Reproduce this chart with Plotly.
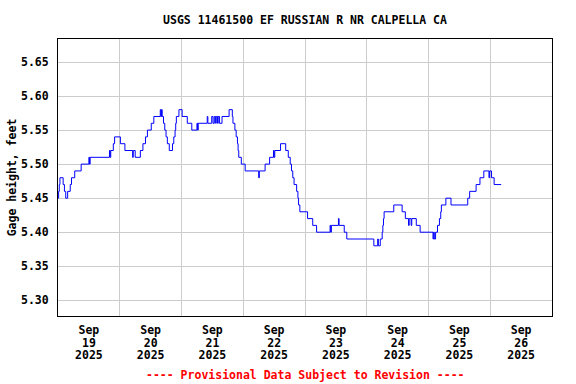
import pandas as pd
import plotly.graph_objects as go

# Hours since 2025-09-19 00:00 where the gage height changes (step data)
hours = [0, 0.25, 0.5, 0.75, 2.0, 2.5, 3.0, 3.75, 4.75, 5.25, 6.5, 9.0, 12.0, 12.25, 12.5,
         20.0, 20.25, 20.5, 21.5, 22.0, 24.25, 26.0, 29.0, 29.25, 30.0, 32.0, 33.0, 34.0,
         34.75, 36.25, 37.25, 39.75, 40.0, 40.25, 40.5, 41.0, 41.5, 42.0, 42.5, 43.25, 44.5,
         45.0, 45.5, 45.75, 46.0, 47.0, 48.25, 50.25, 52.0, 54.0, 54.25, 54.5, 58.0, 58.25,
         59.75, 60.25, 60.75, 61.25, 61.5, 62.0, 62.25, 62.75, 63.75, 66.5, 67.75, 68.0,
         68.75, 69.25, 69.75, 70.0, 70.25, 71.25, 72.75, 78.0, 78.25, 80.5, 82.25, 83.75,
         84.0, 84.25, 86.5, 88.5, 89.5, 90.25, 90.75, 91.25, 91.75, 92.75, 93.25, 93.5, 94.0,
         97.0, 99.0, 100.5, 105.75, 106.0, 106.25, 109.0, 109.25, 111.25, 112.25, 122.75,
         124.25, 124.5, 125.25, 126.0, 126.25, 126.5, 126.75, 130.5, 133.75, 135.0, 136.25,
         136.5, 137.25, 137.5, 139.25, 140.75, 145.75, 146.0, 146.25, 146.75, 147.5, 148.25,
         148.75, 149.0, 150.75, 152.75, 159.25, 160.0, 162.5, 164.0, 165.5, 167.5, 167.75,
         168.5, 169.5, 172.25]

gage_ft = [5.45, 5.46, 5.47, 5.48, 5.47, 5.46, 5.45, 5.46, 5.47, 5.48, 5.49, 5.50, 5.51, 5.50, 5.51,
           5.52, 5.51, 5.52, 5.53, 5.54, 5.53, 5.52, 5.51, 5.52, 5.51, 5.52, 5.53, 5.54,
           5.55, 5.56, 5.57, 5.58, 5.57, 5.58, 5.57, 5.56, 5.55, 5.54, 5.53, 5.52, 5.53,
           5.54, 5.55, 5.56, 5.57, 5.58, 5.57, 5.56, 5.55, 5.56, 5.55, 5.56, 5.57, 5.56,
           5.57, 5.56, 5.57, 5.56, 5.57, 5.56, 5.57, 5.56, 5.57, 5.58, 5.57, 5.56,
           5.55, 5.54, 5.53, 5.52, 5.51, 5.50, 5.49, 5.48, 5.49, 5.50, 5.51, 5.52,
           5.51, 5.52, 5.53, 5.52, 5.51, 5.50, 5.49, 5.48, 5.47, 5.46, 5.45, 5.44, 5.43,
           5.42, 5.41, 5.40, 5.41, 5.40, 5.41, 5.42, 5.41, 5.40, 5.39, 5.38,
           5.39, 5.38, 5.39, 5.40, 5.41, 5.42, 5.43, 5.44, 5.43, 5.42, 5.41,
           5.42, 5.41, 5.42, 5.41, 5.40, 5.39, 5.40, 5.39, 5.40, 5.41, 5.42,
           5.43, 5.44, 5.45, 5.44, 5.45, 5.46, 5.47, 5.48, 5.49, 5.48, 5.49,
           5.48, 5.47, 5.47]

assert len(hours) == len(gage_ft)

day_months = ["Sep"] * 8
day_numbers = ["19", "20", "21", "22", "23", "24", "25", "26"]
day_years = ["2025"] * 8
y_ticks = [5.30, 5.35, 5.40, 5.45, 5.50, 5.55, 5.60, 5.65]

start = pd.Timestamp("2025-09-19 00:00")
times = [start + pd.Timedelta(hours=h) for h in hours]
noons = [start + pd.Timedelta(hours=12 + 24 * i) for i in range(8)]
midnights = [start + pd.Timedelta(days=i) for i in range(9)]

FONT = "DejaVu Sans Mono"
FS = 11.5


def big(s):
    return '<span style="font-size:%.1fpx"><b>%s</b></span>' % (FS, s)


x_labels = ["<br>".join(big(p) for p in parts) for parts in zip(day_months, day_numbers, day_years)]

fig = go.Figure()
fig.add_trace(go.Scatter(x=times, y=gage_ft, mode="lines", line=dict(color="#0000ff", width=1, shape="hv"),
                         showlegend=False))

fig.update_layout(
    width=576, height=384,
    margin=dict(l=58, r=24, t=39, b=68, autoexpand=False),
    paper_bgcolor="white", plot_bgcolor="white",
    font=dict(family=FONT, size=FS, color="black"),
    title=dict(text="<b>USGS 11461500 EF RUSSIAN R NR CALPELLA CA</b>", x=0.5, xref="paper",
               y=1 - 20 / 384, yref="container", yanchor="middle", xanchor="center", automargin=False,
               font=dict(family=FONT, size=FS, color="black")),
    xaxis=dict(range=[start, start + pd.Timedelta(days=8)], tickmode="array", tickvals=noons,
               ticktext=x_labels, automargin=False,
               showgrid=False, ticks="", ticklabelstandoff=5,
               minor=dict(tickvals=midnights, showgrid=True, gridcolor="#cccccc", gridwidth=1, ticks=""),
               showline=True, linecolor="black", linewidth=1, mirror=True, zeroline=False,
               tickfont=dict(family=FONT, size=9.8, color="black")),
    yaxis=dict(range=[5.2769, 5.6838], tickmode="array", tickvals=y_ticks,
               ticktext=["<b>%.2f</b>" % v for v in y_ticks], automargin=False,
               showgrid=True, gridcolor="#cccccc", gridwidth=1, ticks="", ticklabelstandoff=6,
               showline=True, linecolor="black", linewidth=1, mirror=True, zeroline=False,
               title=dict(text="<b>Gage height, feet</b>", standoff=1,
                          font=dict(family=FONT, size=FS, color="black")),
               tickfont=dict(family=FONT, size=FS, color="black")),
)

fig.add_annotation(text="<b>---- Provisional Data Subject to Revision ----</b>",
                   xref="paper", yref="paper", x=0.5, y=(316 - 375) / 277, yanchor="middle",
                   showarrow=False, font=dict(family=FONT, size=FS, color="#ff0000"))

fig.write_html("out.html", config={"displayModeBar": False},
               post_script="document.body.style.margin='0';")
